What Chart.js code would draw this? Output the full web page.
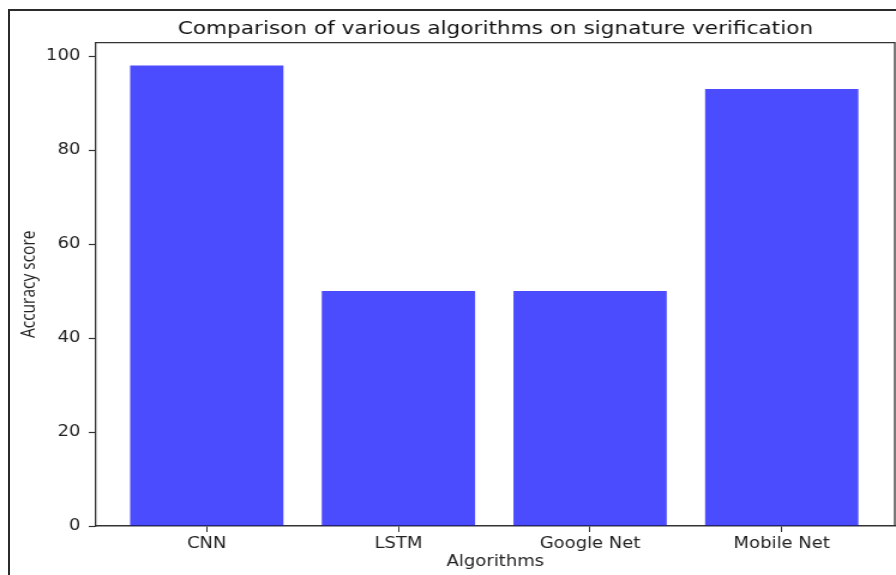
<!DOCTYPE html>
<html>
<head>
<meta charset="utf-8">
<script src="https://cdn.jsdelivr.net/npm/chart.js@4/dist/chart.umd.min.js"></script>
<style>
    html, body { margin: 0; padding: 0; background: #fff; }
    #wrap { position: relative; width: 896px; height: 575px; overflow: hidden; }
    #frame { position: absolute; left: 8px; top: 9px; width: 1000px; height: 1000px;
             border-left: 2px solid #2b2b2b; border-top: 2px solid #2b2b2b; }
    /* the reference is stretched sideways by about 1.2, so the canvas is drawn narrow and widened */
    canvas { position: absolute; left: 0; top: 0; width: 896px; height: 575px; }
</style>
</head>
<body>
<div id="wrap">
    <div id="frame"></div>
    <canvas id="chart" width="747" height="575" style="width:896px;height:575px;"></canvas>
</div>
<script>
const categories = ['CNN', 'LSTM', 'Google Net', 'Mobile Net'];
const accuracy = [98, 50, 50, 93];
const yTicks = [0, 20, 40, 60, 80, 100];

const titleText = 'Comparison of various algorithms on signature verification';
const xTitle = 'Algorithms';
const yTitle = 'Accuracy score';

// top and right spines, like matplotlib
const spines = {
    id: 'spines',
    afterDraw(chart) {
        const { ctx, chartArea: a } = chart;
        ctx.save();
        ctx.strokeStyle = '#333';
        ctx.lineWidth = 1.3;
        ctx.beginPath();
        ctx.moveTo(a.left, a.top);
        ctx.lineTo(a.right, a.top);
        ctx.lineTo(a.right, a.bottom);
        ctx.stroke();
        ctx.restore();
    }
};

const ctx = document.getElementById('chart').getContext('2d');
new Chart(ctx, {
    type: 'bar',
    data: {
        datasets: [{
            data: accuracy.map((v, i) => ({ x: i, y: v })),
            backgroundColor: 'rgba(0,0,255,0.7)',
            borderWidth: 0,
            barPercentage: 0.8,
            categoryPercentage: 1
        }]
    },
    options: {
        responsive: false,
        animation: false,
        layout: { padding: { left: 0, right: 1, top: 0, bottom: 0 } },
        plugins: {
            legend: { display: false },
            tooltip: { enabled: false },
            title: {
                display: true,
                fullSize: false,
                text: titleText,
                color: '#111',
                font: { family: 'DejaVu Sans', size: 18, weight: 'normal' },
                padding: { top: 19, bottom: 2 }
            }
        },
        scales: {
            x: {
                type: 'linear',
                offset: false,
                min: -0.578,
                max: 3.59,
                afterBuildTicks: s => { s.ticks = categories.map((c, i) => ({ value: i })); },
                afterFit: s => { s.height = 49; },
                grid: { offset: false, drawOnChartArea: false, drawTicks: true, tickLength: 6, tickColor: '#333', tickWidth: 1 },
                border: { color: '#333', width: 1.5 },
                ticks: {
                    padding: 3,
                    color: '#222',
                    font: { family: 'DejaVu Sans', size: 15 },
                    callback: v => categories[v] ?? ''
                },
                title: {
                    display: true,
                    text: xTitle,
                    color: '#222',
                    font: { family: 'DejaVu Sans', size: 15 },
                    padding: { top: 4, bottom: 4 }
                }
            },
            y: {
                min: 0,
                max: 102.9,
                afterBuildTicks: s => { s.ticks = yTicks.map(v => ({ value: v })); },
                afterFit: s => { s.width = 80; },
                grid: { drawOnChartArea: false, drawTicks: true, tickLength: 6, tickColor: '#333', tickWidth: 1.2 },
                border: { color: '#333', width: 1.3 },
                ticks: {
                    padding: 7,
                    color: '#222',
                    font: { family: 'DejaVu Sans', size: 15 }
                },
                title: {
                    display: true,
                    text: yTitle,
                    color: '#222',
                    font: { family: 'Open Sans', size: 15.5 },
                    padding: { top: 15, bottom: 15 }
                }
            }
        }
    },
    plugins: [spines]
});
</script>
</body>
</html>
